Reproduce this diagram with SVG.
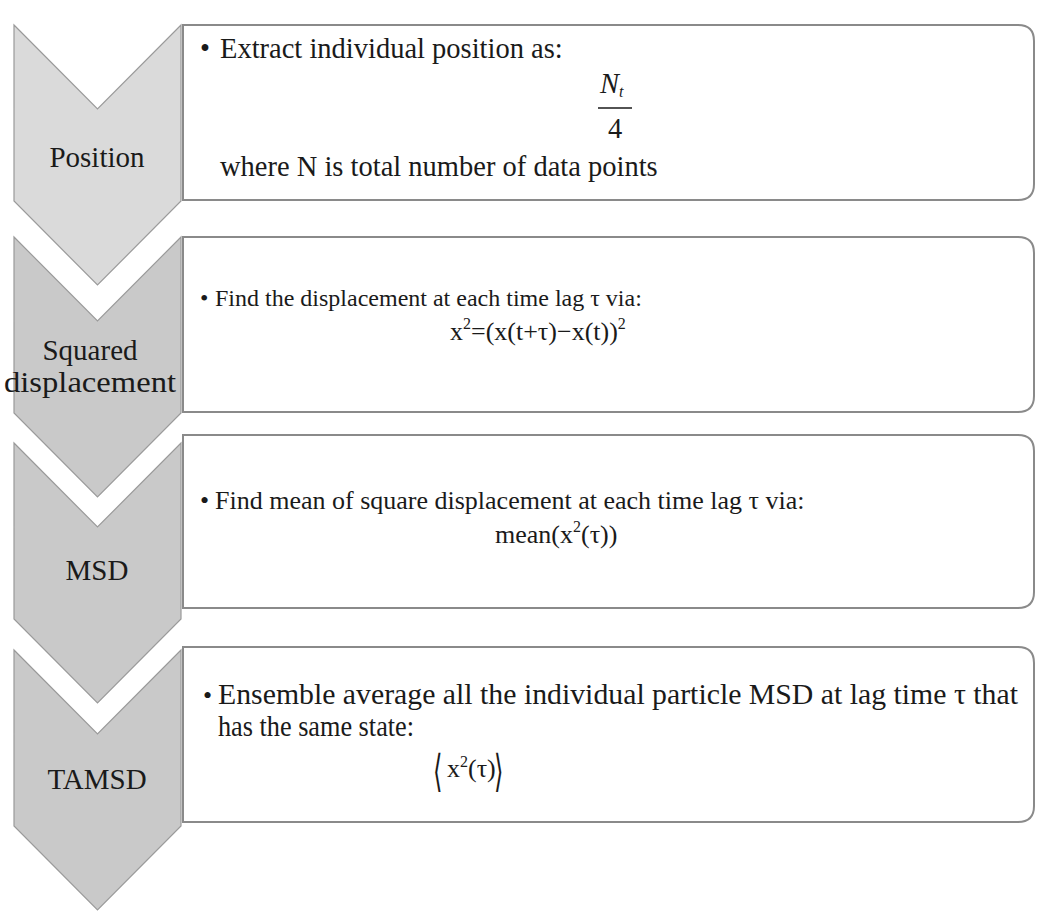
<svg xmlns="http://www.w3.org/2000/svg" width="1038" height="912" viewBox="0 0 1038 912">
<style>
.chev1{fill:#dadada;stroke:#9a9a9a;stroke-width:1.2}
.chev{fill:#c9c9c9;stroke:#9a9a9a;stroke-width:1.2}
.box{fill:#ffffff;stroke:#8a8a8a;stroke-width:2}
.lbl{font-family:"Liberation Serif","Times New Roman",serif;font-size:29px;fill:#1a1a1a;text-anchor:middle}
.txt{font-family:"Liberation Serif","Times New Roman",serif;font-size:26px;fill:#1a1a1a}
.t1{font-size:28.5px}
.t2{font-size:24px}
.t4{font-size:30px}
.sup{font-size:16px}
.brk{font-family:"DejaVu Serif",serif;font-size:44px;fill:#1a1a1a}
</style>
<rect width="1038" height="912" fill="#ffffff"/>
<g id="connectors"></g>
<g id="node-position">
<path class="chev1" d="M14,25 L97.5,109 L181,25 L181,201 L97.5,285 L14,201 Z"/>
<text class="lbl" x="97" y="167">Position</text>
</g>
<g id="box-position">
<path class="box" d="M183,25 H1018 Q1034,25 1034,41 V184 Q1034,200 1018,200 H183 Z"/>
<text class="txt t1" x="200" y="58">•</text>
<text class="txt t1" x="220" y="58">Extract individual position as:</text>
<text class="txt t1" x="600" y="93" font-style="italic">N<tspan class="sup" dy="4">t</tspan></text>
<line x1="598" y1="108" x2="632" y2="108" stroke="#1a1a1a" stroke-width="1.5"/>
<text class="txt t1" x="615" y="138" text-anchor="middle">4</text>
<text class="txt t1" x="220" y="176">where N is total number of data points</text>
</g>
<g id="node-squared">
<path class="chev" d="M14,237 L97.5,321 L181,237 L181,413 L97.5,497 L14,413 Z"/>
<text class="lbl" x="90" y="360">Squared</text>
<text class="lbl" x="90" y="392" textLength="172" lengthAdjust="spacingAndGlyphs">displacement</text>
</g>
<g id="box-squared">
<path class="box" d="M183,237 H1018 Q1034,237 1034,253 V396 Q1034,412 1018,412 H183 Z"/>
<text class="txt t2" x="200" y="306">•</text>
<text class="txt t2" x="215" y="306">Find the displacement at each time lag τ via:</text>
<text class="txt" x="450" y="340">x<tspan class="sup" dy="-11">2</tspan><tspan dy="11">=(x(t+τ)−x(t))</tspan><tspan class="sup" dy="-11">2</tspan></text>
</g>
<g id="node-msd">
<path class="chev" d="M14,443 L97.5,527 L181,443 L181,619 L97.5,703 L14,619 Z"/>
<text class="lbl" x="97" y="580">MSD</text>
</g>
<g id="box-msd">
<path class="box" d="M183,435 H1018 Q1034,435 1034,451 V592 Q1034,608 1018,608 H183 Z"/>
<text class="txt" x="200" y="509">•</text>
<text class="txt" x="215" y="509">Find mean of square displacement at each time lag τ via:</text>
<text class="txt" x="495" y="543">mean(x<tspan class="sup" dy="-11">2</tspan><tspan dy="11">(τ))</tspan></text>
</g>
<g id="node-tamsd">
<path class="chev" d="M14,650 L97.5,734 L181,650 L181,826 L97.5,910 L14,826 Z"/>
<text class="lbl" x="97" y="789">TAMSD</text>
</g>
<g id="box-tamsd">
<path class="box" d="M183,647 H1018 Q1034,647 1034,663 V806 Q1034,822 1018,822 H183 Z"/>
<text class="txt" x="203" y="704">•</text>
<text class="txt t4" x="218" y="704" textLength="800" lengthAdjust="spacingAndGlyphs">Ensemble average all the individual particle MSD at lag time τ that</text>
<text class="txt t4" x="218" y="736" textLength="196" lengthAdjust="spacingAndGlyphs">has the same state:</text>
<text class="brk" transform="translate(433,786) scale(0.55,1)">⟨</text>
<text class="txt" x="447" y="777" font-size="22">x<tspan class="sup" dy="-10" font-size="14">2</tspan><tspan dy="10">(τ)</tspan></text>
<text class="brk" transform="translate(494,786) scale(0.55,1)">⟩</text>
</g>
</svg>
